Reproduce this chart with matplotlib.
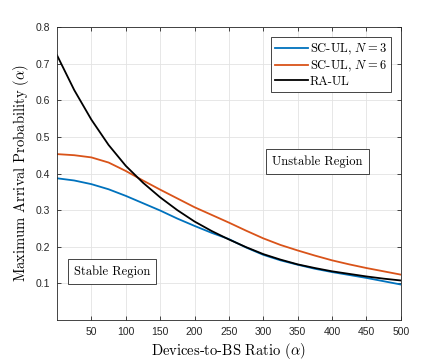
import numpy as np
import matplotlib
matplotlib.use("Agg")
from matplotlib import pyplot as plt

#values
ratio = [0, 25, 50, 75, 100, 125, 150, 175, 200, 225, 250,
         275, 300, 325, 350, 375, 400, 425, 450, 475, 500]
sc_ul_n3 = [0.387, 0.381, 0.371, 0.357, 0.339, 0.319, 0.299, 0.277, 0.257, 0.238, 0.221,
            0.198, 0.178, 0.163, 0.151, 0.140, 0.131, 0.123, 0.115, 0.106, 0.097]
sc_ul_n6 = [0.453, 0.450, 0.444, 0.430, 0.407, 0.381, 0.356, 0.332, 0.308, 0.287, 0.266,
            0.244, 0.223, 0.205, 0.190, 0.176, 0.163, 0.152, 0.142, 0.133, 0.124]
ra_ul = [0.723, 0.628, 0.547, 0.478, 0.421, 0.375, 0.335, 0.300, 0.269, 0.243, 0.220,
         0.199, 0.180, 0.165, 0.152, 0.142, 0.133, 0.126, 0.119, 0.113, 0.108]
series_labels = ["SC-UL, $N=3$", "SC-UL, $N=6$", "RA-UL"]
x_ticks = [50, 100, 150, 200, 250, 300, 350, 400, 450, 500]
y_ticks = [0.1, 0.2, 0.3, 0.4, 0.5, 0.6, 0.7, 0.8]

plt.rcParams["mathtext.fontset"] = "cm"
serif = {"family": "cmr10"}

fig = plt.figure(figsize=(4.43, 3.6), dpi=100)
ax = fig.add_axes([0.1287, 0.111, 0.776, 0.814])

#matlab default colours
ax.plot(ratio, sc_ul_n3, color=(0, 0.447, 0.741), lw=1.3, label=series_labels[0])
ax.plot(ratio, sc_ul_n6, color=(0.85, 0.325, 0.098), lw=1.3, label=series_labels[1])
ax.plot(ratio, ra_ul, color="black", lw=1.3, label=series_labels[2])

ax.set_xlim(0, 500)
ax.set_ylim(0, 0.8)
ax.set_xticks(x_ticks)
ax.set_yticks(y_ticks)
ax.set_xticklabels([str(t) for t in x_ticks], family="Liberation Sans", fontsize=7.5)
ax.set_yticklabels([f"{t:.1f}" for t in y_ticks], family="Liberation Sans", fontsize=7.5)
ax.tick_params(direction="in", length=3, width=0.6, colors="#262626",
               top=True, right=True, pad=5)
for sp in ax.spines.values():
  sp.set_color("#262626")
  sp.set_linewidth(0.6)
ax.grid(True, color="#e3e3e3", lw=0.6)
ax.set_axisbelow(True)

ax.set_xlabel(r"Devices-to-BS Ratio ($\alpha$)", fontsize=10.5, labelpad=3, **serif)
ax.set_ylabel(r"Maximum Arrival Probability ($\alpha$)", fontsize=10.5, labelpad=3, **serif)

leg = ax.legend(loc="upper right", bbox_to_anchor=(0.971, 0.966), borderaxespad=0,
                prop={"family": "cmr10", "size": 9}, fancybox=False, framealpha=1,
                edgecolor="#262626", handlelength=2.6, handletextpad=0.15,
                labelspacing=0.15, borderpad=0.35)
leg.get_frame().set_linewidth(0.6)

box = dict(boxstyle="square,pad=0.5", facecolor="white", edgecolor="#262626", lw=0.6)
ax.text(379, 0.433, "Unstable Region", ha="center", va="center", fontsize=9,
        bbox=box, **serif)
ax.text(80, 0.132, "Stable Region", ha="center", va="center", fontsize=9,
        bbox=box, **serif)

fig.savefig("out.png", dpi=100)
